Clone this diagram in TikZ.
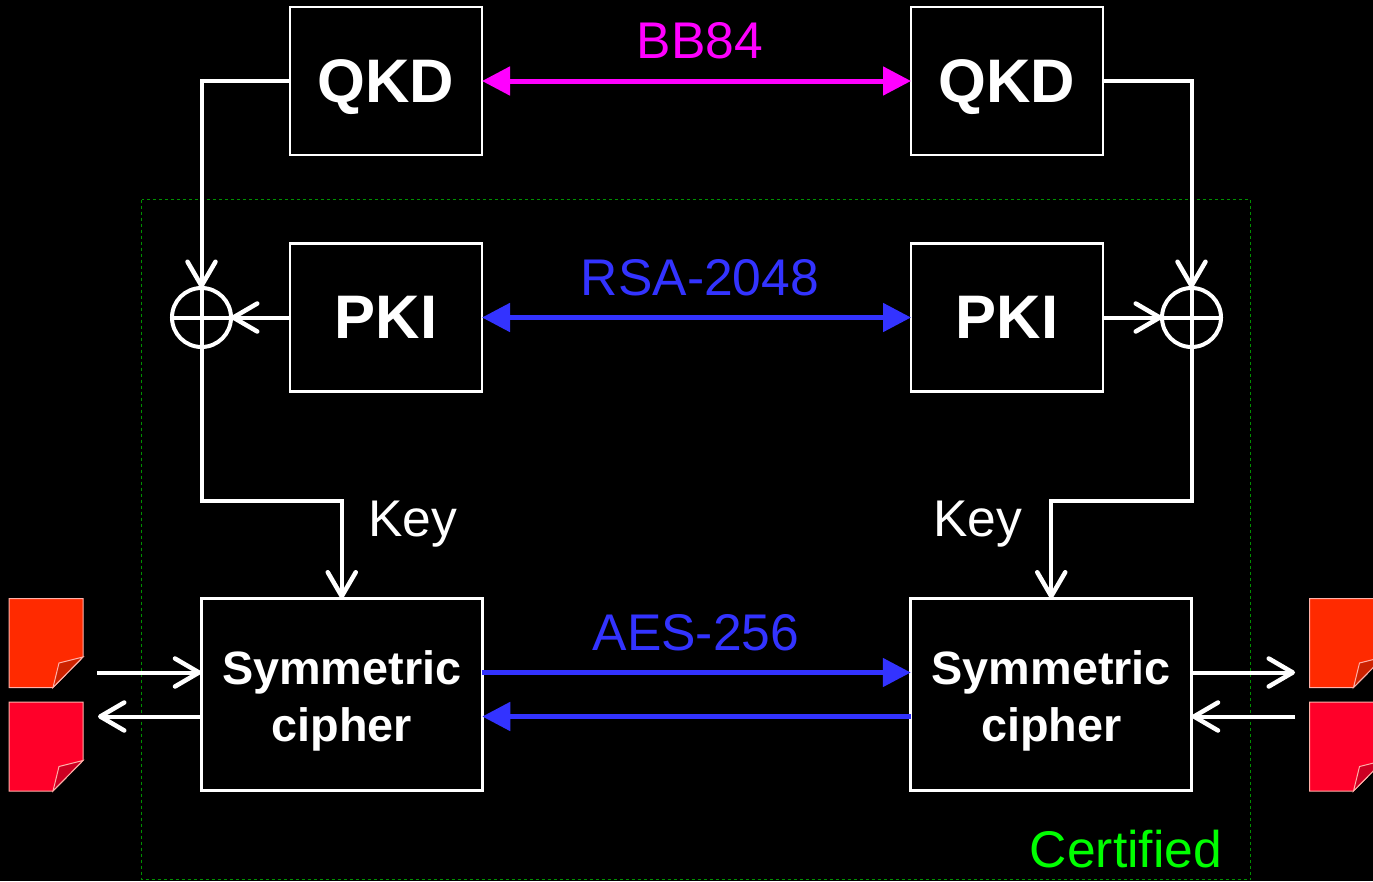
\documentclass[tikz,border=0pt]{standalone}
\usepackage{fontspec}
\setmainfont{Liberation Sans}
\usetikzlibrary{arrows.meta,calc}
\definecolor{magc}{HTML}{FF00FF}
\definecolor{bluec}{HTML}{3333FF}
\definecolor{certc}{HTML}{00FF00}
\definecolor{dashc}{HTML}{009000}
\definecolor{docA}{HTML}{FF2A00}
\definecolor{docAf}{HTML}{CC2200}
\definecolor{docB}{HTML}{FF0029}
\definecolor{docBf}{HTML}{CC0022}
\definecolor{docedge}{HTML}{FFB0A8}
\tikzset{
  box/.style={draw=white,line width=2.7pt,inner sep=0pt,outer sep=0pt,text=white,align=center},
  bigbox/.style={box,minimum width=192pt,minimum height=148pt,font=\fontsize{61.5}{61.5}\selectfont\bfseries},
  symbox/.style={box,minimum width=281pt,minimum height=192pt,font=\fontsize{46.8}{57}\selectfont\bfseries},
  xorc/.style={circle,draw=white,line width=4pt,minimum size=59pt,inner sep=0pt,outer sep=0pt},
  wire/.style={draw=white,line width=4pt},
  wirehead/.style={wire,-{Straight Barb[length=24pt,width=28pt,line width=4.5pt,round]}},
  bluehead/.style={draw=#1,line width=5pt,{Triangle[length=28pt,width=28pt]}-{Triangle[length=28pt,width=28pt]}},
  bluesingle/.style={draw=bluec,line width=5pt,-{Triangle[length=28pt,width=28pt]}},
  lbl/.style={inner sep=0pt,font=\fontsize{51.6}{51.6}\selectfont},
}
\newcommand{\docsheet}[3]{%
  \begin{scope}[shift={(#1)}]
    \draw[draw=docedge,line width=1pt,fill=#2] (0,0) -- (74,0) -- (74,58.5) -- (44,89) -- (0,89) -- cycle;
    \draw[draw=docedge,line width=1pt,fill=#3] (74,58.5) -- (50,64.5) -- (44,89) -- cycle;
  \end{scope}}
\begin{document}
\begin{tikzpicture}[x=1pt,y=-1pt]
\useasboundingbox (0,0) rectangle (1373,881);
\clip (0,0) rectangle (1373,881);
\fill[black] (0,0) rectangle (1373,881);
\draw[draw=dashc,line width=1pt,dash pattern=on 3pt off 3pt] (141.5,199.5) rectangle (1250.5,879.5);

\node[bigbox] (qkdL) at (386,81) {\raisebox{0pt}[\height][0pt]{QKD}};
\node[bigbox] (qkdR) at (1007,81) {\raisebox{0pt}[\height][0pt]{QKD}};
\node[bigbox] (pkiL) at (386,317.5) {PKI};
\node[bigbox] (pkiR) at (1007,317.5) {PKI};
\node[symbox] (symL) at (341.75,694.5) {\rule{0pt}{47pt}Symmetric\\cipher};
\node[symbox] (symR) at (1051.25,694.5) {\rule{0pt}{47pt}Symmetric\\cipher};
\node[xorc] (xorL) at (201.5,317.5) {};
\node[xorc] (xorR) at (1191.5,317.5) {};
\draw[wire] (xorL.north) -- (xorL.south) (xorL.west) -- (xorL.east);
\draw[wire] (xorR.north) -- (xorR.south) (xorR.west) -- (xorR.east);

\node[lbl,text=magc] (bb) at (700,41) {BB84};
\node[lbl,text=bluec] (rsa) at (700,278) {RSA-2048};
\node[lbl,text=bluec] (aes) at (696,633) {AES-256};
\node[lbl,text=white] (keyL) at (413,524) {Key};
\node[lbl,text=white] (keyR) at (978,524) {Key};
\node[lbl,text=certc] (cert) at (1126,849) {Certified};

\draw[bluehead=magc] (qkdL.east) -- (qkdR.west);
\draw[bluehead=bluec] (pkiL.east) -- (pkiR.west);
\draw[bluesingle] ([yshift=22pt]symL.east) -- ([yshift=22pt]symR.west);
\draw[bluesingle] ([yshift=-22pt]symR.west) -- ([yshift=-22pt]symL.east);

\draw[wirehead] (qkdL.west) -| (xorL.north);
\draw[wirehead] (qkdR.east) -| (xorR.north);
\draw[wirehead] (pkiL.west) -- (xorL.east);
\draw[wirehead] (pkiR.east) -- (xorR.west);
\coordinate (kneeL) at (symL.north |- 0,500.5);
\coordinate (kneeR) at (symR.north |- 0,500.5);
\draw[wirehead] (xorL.south) |- (kneeL) -- (symL.north);
\draw[wirehead] (xorR.south) |- (kneeR) -- (symR.north);

\docsheet{9,598.5}{docA}{docAf}
\docsheet{9,702}{docB}{docBf}
\docsheet{1309.5,598.5}{docA}{docAf}
\docsheet{1309.5,702}{docB}{docBf}
\coordinate (inL) at (97,672.5);
\coordinate (outL) at (98,716.5);
\coordinate (outR) at (1295,672.5);
\coordinate (inR) at (1295,716.5);
\draw[wirehead] (inL) -- ([yshift=22pt]symL.west);
\draw[wirehead] ([yshift=-22pt]symL.west) -- (outL);
\draw[wirehead] ([yshift=22pt]symR.east) -- (outR);
\draw[wirehead] (inR) -- ([yshift=-22pt]symR.east);
\end{tikzpicture}
\end{document}
